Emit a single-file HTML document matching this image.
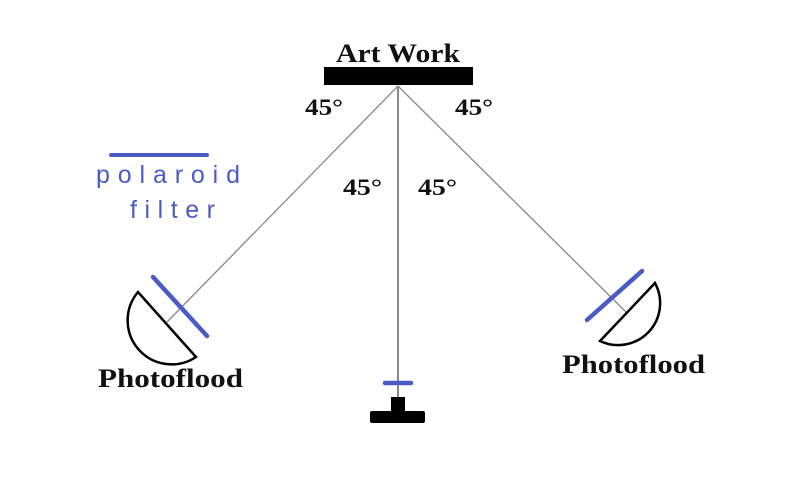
<!DOCTYPE html>
<html><head><style>
html,body{margin:0;padding:0;background:#fff;}
svg{display:block}
.s{font-family:"Liberation Serif",serif;font-weight:bold;fill:#111;}
.p{font-family:"Liberation Sans",sans-serif;fill:#4a5bc4;font-size:25px;}
</style></head><body>
<svg width="800" height="490" viewBox="0 0 800 490" xmlns="http://www.w3.org/2000/svg">
<rect width="800" height="490" fill="#fff"/>
<text class="s" x="336" y="62" font-size="26" textLength="124" lengthAdjust="spacingAndGlyphs">Art Work</text>
<rect x="324" y="67" width="149" height="18" fill="#000"/>
<line x1="398" y1="86" x2="167" y2="322" stroke="#888" stroke-width="1.3"/>
<line x1="398" y1="86" x2="626" y2="312" stroke="#888" stroke-width="1.3"/>
<line x1="398" y1="86" x2="398" y2="398" stroke="#888" stroke-width="2"/>
<text class="s" x="305" y="115" font-size="23" textLength="38" lengthAdjust="spacingAndGlyphs">45°</text>
<text class="s" x="455" y="115" font-size="23" textLength="38" lengthAdjust="spacingAndGlyphs">45°</text>
<text class="s" x="343" y="195" font-size="23" textLength="39" lengthAdjust="spacingAndGlyphs">45°</text>
<text class="s" x="418" y="195" font-size="23" textLength="39" lengthAdjust="spacingAndGlyphs">45°</text>
<line x1="111" y1="155" x2="207" y2="155" stroke="#4a5bc4" stroke-width="4" stroke-linecap="round"/>
<text class="p" x="96" y="183" textLength="144" lengthAdjust="spacing">polaroid</text>
<text class="p" x="130" y="218" textLength="85" lengthAdjust="spacing">filter</text>
<path d="M138,292 A44,44 0 0 0 196,357 Z" fill="#fff" stroke="#000" stroke-width="2.5"/>
<line x1="153" y1="277" x2="207" y2="336" stroke="#4a5bc4" stroke-width="4.5" stroke-linecap="round"/>
<path d="M655,283 A42,42 0 0 1 600,341 Z" fill="#fff" stroke="#000" stroke-width="2.5"/>
<line x1="587" y1="320" x2="642" y2="271" stroke="#4a5bc4" stroke-width="4.5" stroke-linecap="round"/>
<text class="s" x="98" y="387" font-size="26" textLength="145" lengthAdjust="spacingAndGlyphs">Photoflood</text>
<text class="s" x="562" y="373" font-size="26" textLength="143" lengthAdjust="spacingAndGlyphs">Photoflood</text>
<line x1="385" y1="383" x2="411" y2="383" stroke="#4a5bc4" stroke-width="4.5" stroke-linecap="round"/>
<rect x="391" y="397" width="14" height="15" fill="#000"/>
<rect x="370" y="411" width="55" height="12" rx="2" fill="#000"/>
</svg>
</body></html>
